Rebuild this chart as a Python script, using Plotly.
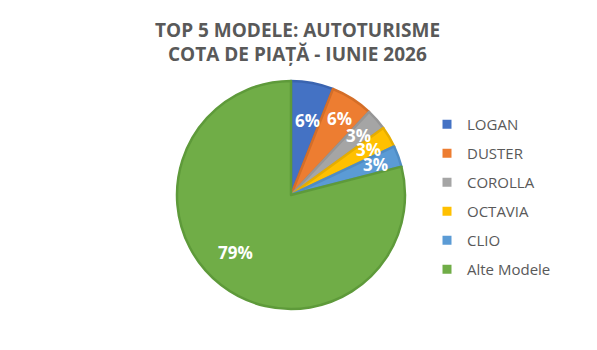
import math
import plotly.graph_objects as go

categories = ["LOGAN", "DUSTER", "COROLLA", "OCTAVIA", "CLIO", "Alte Modele"]
shares = [6, 6, 3, 3, 3, 79]
labels_txt = ["6%", "6%", "3%", "3%", "3%", "79%"]
title_lines = ["TOP 5 MODELE: AUTOTURISME", "COTA DE PIAȚĂ - IUNIE 2026"]
colors = ["#4472C4", "#ED7D31", "#A5A5A5", "#FFC000", "#5B9BD5", "#70AD47"]
edge_colors = ["#3A64B0", "#D46E28", "#969696", "#E6AD00", "#4F8CC4", "#5E9A3A"]

W, H = 597, 350
cx, cy, R = 291, 195, 114  # pixel layout of pie

fig = go.Figure()
fig.add_trace(go.Pie(
    labels=categories, values=shares, sort=False, direction="clockwise",
    rotation=0, textinfo="none", showlegend=False, hoverinfo="label+percent",
    marker=dict(colors=colors, line=dict(color=edge_colors, width=2.5)),
    domain=dict(x=[(cx - R) / W, (cx + R) / W], y=[(H - cy - R) / H, (H - cy + R) / H]),
))

# legend entries
for c, col in zip(categories, colors):
    fig.add_trace(go.Scatter(
        x=[None], y=[None], mode="markers", name=c, legendgroup=c,
        marker=dict(symbol="square", size=9, color=col), showlegend=True,
    ))

# data labels positioned along slice bisectors
total = sum(shares)
cum = 0
for v, t in zip(shares, labels_txt):
    mid = (cum + v / 2) / total * 2 * math.pi
    cum += v
    rr = 0.79 * R
    px = cx + rr * math.sin(mid)
    py = cy - rr * math.cos(mid)
    fig.add_annotation(
        x=px / W, y=1 - py / H, xref="paper", yref="paper", text=t, showarrow=False,
        font=dict(family="Open Sans", size=17, color="white", weight="bold"),
    )

# title lines
for i, line in enumerate(title_lines):
    fig.add_annotation(
        x=297 / W, y=1 - (30 + 24 * i) / H, xref="paper", yref="paper",
        xanchor="center", yanchor="middle", text=line, showarrow=False,
        font=dict(family="Open Sans", size=19, color="#595959", weight="bold"),
    )

fig.update_layout(
    width=W, height=H, margin=dict(l=0, r=0, t=0, b=0),
    paper_bgcolor="white", plot_bgcolor="white",
    xaxis=dict(visible=False), yaxis=dict(visible=False),
    legend=dict(
        x=427 / W, xanchor="left", y=1 - 108 / H, yanchor="top",
        font=dict(family="Open Sans", size=15, color="#595959"),
        tracegroupgap=6.5, bgcolor="rgba(0,0,0,0)",
    ),
)

fig.write_html("out.html")
